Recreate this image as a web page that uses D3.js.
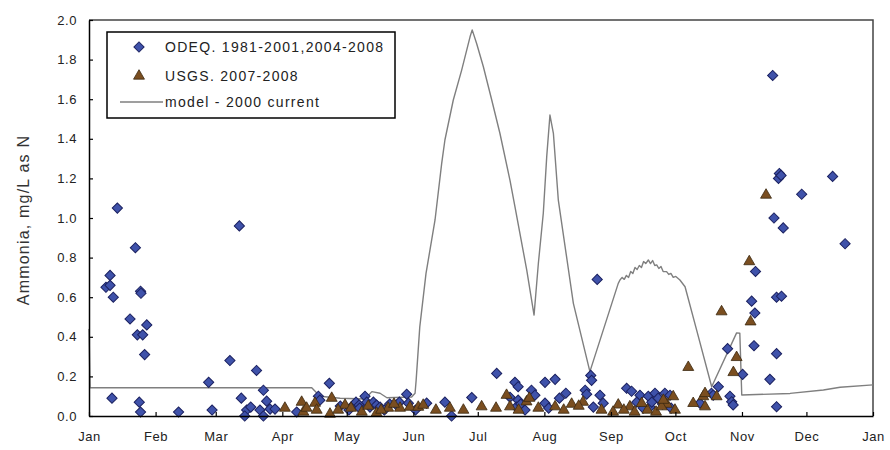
<!DOCTYPE html>
<html>
<head>
<meta charset="utf-8">
<script src="https://cdn.jsdelivr.net/npm/d3@7/dist/d3.min.js"></script>
<style>
  html, body { margin: 0; padding: 0; background: #fff; }
  svg { display: block; font-family: "Liberation Sans", Arial, sans-serif; }
</style>
</head>
<body>
<svg id="chart" width="890" height="450"></svg>
<script>
// Day of year (0 = Jan 1) and ammonia concentration, mg/L as N
const odeqDay = [7.9, 9.8, 9.8, 11.3, 13.2, 10.7, 19.1, 21.6, 22.5, 25.0, 24.0, 24.2, 26.9, 25.9, 23.4, 24.0,
  41.7, 55.7, 57.3, 65.6, 70.0, 70.9, 73.4, 72.5, 75.3, 78.0, 81.2, 82.7, 79.6, 81.2, 84.3, 86.6, 96.7,
  106.8, 107.5, 111.9, 123.0, 124.3, 125.8, 128.5, 129.3, 130.8, 132.4, 133.9, 135.5, 143.2, 144.5, 147.9, 148.7, 126.0,
  117.0, 121.0, 137.5, 140.0, 152.0,
  157.2, 165.7, 168.8, 178.2, 189.8, 196.0, 198.3, 199.8, 199.8, 198.9, 206.0, 207.6, 212.3, 212.3, 217.0, 222.0,
  201.0, 203.0, 214.0, 219.0,
  231.0, 233.6, 234.0, 231.7, 236.6, 237.9, 239.4, 234.8,
  250.3, 252.6, 256.5, 260.4, 261.2, 263.5, 265.0, 268.1, 270.5, 284.4, 289.8, 293.0, 297.3, 290.6, 298.4, 299.2, 299.9,
  255.0, 258.0, 262.0, 267.0, 271.0,
  304.3, 308.5, 310.0, 310.3, 309.6, 320.1, 322.4, 320.1, 317.0, 320.1, 318.3, 321.4, 321.0, 322.2, 346.2, 331.8,
  318.9, 323.2, 352.0];
const odeqVal = [0.65, 0.71, 0.66, 0.60, 1.05, 0.09, 0.49, 0.85, 0.41, 0.41, 0.63, 0.62, 0.46, 0.31, 0.07, 0.02,
  0.02, 0.17, 0.03, 0.28, 0.96, 0.09, 0.03, 0.0, 0.045, 0.23, 0.13, 0.075, 0.03, 0.0, 0.035, 0.035, 0.02,
  0.10, 0.08, 0.165, 0.055, 0.07, 0.055, 0.10, 0.07, 0.045, 0.07, 0.055, 0.045, 0.055, 0.07, 0.11, 0.065, 0.04,
  0.05, 0.03, 0.03, 0.06, 0.03,
  0.065, 0.07, 0.0, 0.093, 0.215, 0.095, 0.17, 0.148, 0.08, 0.045, 0.13, 0.105, 0.065, 0.17, 0.185, 0.115,
  0.06, 0.03, 0.04, 0.09,
  0.13, 0.205, 0.18, 0.11, 0.69, 0.105, 0.065, 0.045,
  0.14, 0.125, 0.105, 0.10, 0.045, 0.115, 0.09, 0.115, 0.105, 0.065, 0.115, 0.148, 0.34, 0.105, 0.10, 0.072, 0.056,
  0.07, 0.04, 0.07, 0.06, 0.04,
  0.21, 0.58, 0.52, 0.73, 0.355, 0.60, 0.605, 0.315, 0.185, 0.047, 1.72, 1.225, 1.20, 1.215, 1.21, 1.12,
  1.00, 0.95, 0.87];

const usgsDay = [91.2, 99.0, 99.8, 101.3, 105.2, 106.0, 113.0, 112.2, 119.2, 127.0, 133.9, 139.3, 144.8, 149.4, 153.3,
  116.0, 122.0, 130.0, 136.0, 142.0,
  155.6, 161.5, 168.0, 174.3, 182.8, 189.5, 194.4, 196.0, 203.7, 209.2, 217.0, 224.7, 230.0, 238.6, 246.4, 251.8,
  200.0, 205.0, 221.0, 228.0, 244.0, 249.0, 254.0, 260.0, 264.0, 269.0,
  257.3, 266.6, 267.4, 272.0, 272.8, 279.0, 281.3, 286.0, 286.8, 286.8, 292.2, 294.5, 300.0, 301.5, 308.0, 307.4, 315.2];
const usgsVal = [0.04, 0.07, 0.02, 0.04, 0.065, 0.03, 0.09, 0.01, 0.055, 0.02, 0.015, 0.04, 0.04, 0.045, 0.045,
  0.03, 0.04, 0.05, 0.03, 0.06,
  0.055, 0.03, 0.04, 0.03, 0.047, 0.04, 0.105, 0.047, 0.072, 0.04, 0.047, 0.06, 0.07, 0.03, 0.056, 0.047,
  0.03, 0.09, 0.03, 0.05, 0.02, 0.03, 0.02, 0.03, 0.02, 0.06,
  0.064, 0.047, 0.08, 0.098, 0.03, 0.246, 0.064, 0.098, 0.047, 0.114, 0.098, 0.527, 0.22, 0.296, 0.476, 0.78, 1.116];

const modelDay = [0, 0.5, 103.7, 107.5, 116.9, 128.5, 131.7, 135.5, 138.7, 150.2, 151.8, 152.3, 154.0, 156.9, 161.1, 164.2,
  165.7, 169.6, 173.5, 177.4, 178.4, 180.5, 183.6, 187.5, 191.3, 196.0, 198.3, 203.8, 207.2, 209.2, 211.5, 213.1,
  214.6, 216.2, 218.5, 225.5, 233.2, 246.4, 247.2, 248.2, 249.2, 250.2, 251.2, 252.2, 253.2, 254.2, 255.2, 256.2,
  257.2, 258.2, 259.2, 260.4, 261.4, 262.4, 263.4, 264.3, 265.3, 266.3, 267.3, 268.9, 269.9, 270.9, 272.0, 273.2,
  275.1, 277.5, 282.9, 289.9, 301.5, 303.0, 303.9, 326.4, 341.9, 349.7, 365];
const modelVal = [0.44, 0.143, 0.143, 0.10, 0.09, 0.086, 0.123, 0.115, 0.092, 0.096, 0.115, 0.18, 0.45, 0.72, 0.99, 1.276,
  1.394, 1.596, 1.747, 1.915, 1.95, 1.88, 1.764, 1.596, 1.428, 1.19, 1.057, 0.737, 0.51, 0.77, 1.024, 1.31,
  1.52, 1.428, 1.09, 0.569, 0.224, 0.67, 0.687, 0.70, 0.69, 0.71, 0.70, 0.73, 0.72, 0.75, 0.74, 0.76,
  0.75, 0.78, 0.77, 0.788, 0.77, 0.785, 0.76, 0.763, 0.745, 0.755, 0.73, 0.729, 0.715, 0.72, 0.70, 0.705,
  0.687, 0.653, 0.434, 0.148, 0.42, 0.418, 0.106, 0.114, 0.131, 0.145, 0.157];

const monthTicks = [0, 31, 59, 90, 120, 151, 181, 212, 243, 273, 304, 334, 365];
const monthLabels = ["Jan", "Feb", "Mar", "Apr", "May", "Jun", "Jul", "Aug", "Sep", "Oct", "Nov", "Dec", "Jan"];
const yTicks = [0, 0.2, 0.4, 0.6, 0.8, 1.0, 1.2, 1.4, 1.6, 1.8, 2.0];

const seriesNames = ["ODEQ. 1981-2001,2004-2008", "USGS. 2007-2008", "model - 2000 current"];
const yTitle = "Ammonia, mg/L as N";

(function drawChart() {
  const svg = d3.select("#chart");
  const pL = 89, pR = 873, pT = 20, pB = 416;

  const x = d3.scaleLinear().domain([0, 365]).range([pL, pR]);
  const y = d3.scaleLinear().domain([0, 2]).range([pB, pT]);

  const diamondFill = "#3f52aa", diamondStroke = "#1b2160";
  const triFill = "#7a4e20", triStroke = "#3b2810";
  const lineColor = "#7f7f7f";

  // plot frame (top and right edges)
  svg.append("path")
    .attr("d", `M${pL},${pT}H${pR}V${pB}`)
    .attr("fill", "none").attr("stroke", "#444").attr("stroke-width", 1.5);

  // model line
  const line = d3.line().x(i => x(modelDay[i])).y(i => y(modelVal[i]));
  svg.append("path")
    .attr("d", line(d3.range(modelDay.length)))
    .attr("fill", "none").attr("stroke", lineColor).attr("stroke-width", 1.4)
    .attr("stroke-linejoin", "round");

  const diamond = d3.symbol().type(d3.symbolSquare).size(52);
  const triangle = d3.symbol().type(d3.symbolTriangle).size(52);

  // ODEQ points
  svg.append("g").selectAll("path")
    .data(d3.range(odeqDay.length))
    .join("path")
    .attr("d", diamond)
    .attr("transform", i => `translate(${x(odeqDay[i])},${y(odeqVal[i])}) rotate(45)`)
    .attr("fill", diamondFill).attr("stroke", diamondStroke).attr("stroke-width", 1);

  // USGS points
  svg.append("g").selectAll("path")
    .data(d3.range(usgsDay.length))
    .join("path")
    .attr("d", triangle)
    .attr("transform", i => `translate(${x(usgsDay[i])},${y(usgsVal[i])})`)
    .attr("fill", triFill).attr("stroke", triStroke).attr("stroke-width", 0.8);

  // axes
  const xAxis = d3.axisBottom(x)
    .tickValues(monthTicks)
    .tickFormat((d, i) => monthLabels[i])
    .tickSizeInner(-4).tickSizeOuter(0).tickPadding(16);
  const gx = svg.append("g").attr("transform", `translate(0,${pB})`).call(xAxis);

  const yAxis = d3.axisLeft(y)
    .tickValues(yTicks)
    .tickFormat(d3.format(".1f"))
    .tickSizeInner(-4).tickSizeOuter(0).tickPadding(12);
  const gy = svg.append("g").attr("transform", `translate(${pL},0)`).call(yAxis);

  [gx, gy].forEach(g => {
    g.select(".domain").attr("stroke", "#000").attr("stroke-width", 1.5);
    g.selectAll(".tick line").attr("stroke", "#000").attr("stroke-width", 1.2);
    g.selectAll(".tick text").attr("fill", "#222").attr("font-size", 13).attr("letter-spacing", 0.6);
  });

  // y-axis title
  svg.append("text")
    .attr("transform", `translate(29,${(pT + pB) / 2 + 2}) rotate(-90)`)
    .attr("text-anchor", "middle")
    .attr("font-size", 16).attr("fill", "#333")
    .attr("letter-spacing", 1.2)
    .text(yTitle);

  // legend
  const lg = svg.append("g");
  lg.append("rect").attr("x", 107).attr("y", 32).attr("width", 288).attr("height", 86)
    .attr("fill", "#fff").attr("stroke", "#000").attr("stroke-width", 1.5);
  const rows = [47, 76, 102];
  lg.append("path").attr("d", diamond).attr("transform", `translate(139,${rows[0]}) rotate(45)`)
    .attr("fill", diamondFill).attr("stroke", diamondStroke);
  lg.append("path").attr("d", triangle).attr("transform", `translate(139,${rows[1]})`)
    .attr("fill", triFill).attr("stroke", triStroke).attr("stroke-width", 0.8);
  lg.append("line").attr("x1", 120).attr("x2", 163).attr("y1", rows[2]).attr("y2", rows[2])
    .attr("stroke", lineColor).attr("stroke-width", 1.4);
  lg.selectAll("text.lbl").data(seriesNames).join("text")
    .attr("class", "lbl")
    .attr("x", 165).attr("y", (d, i) => rows[i] + 5)
    .attr("font-size", 14).attr("fill", "#222").attr("letter-spacing", 1.3)
    .text(d => d);
})();
</script>
</body>
</html>
